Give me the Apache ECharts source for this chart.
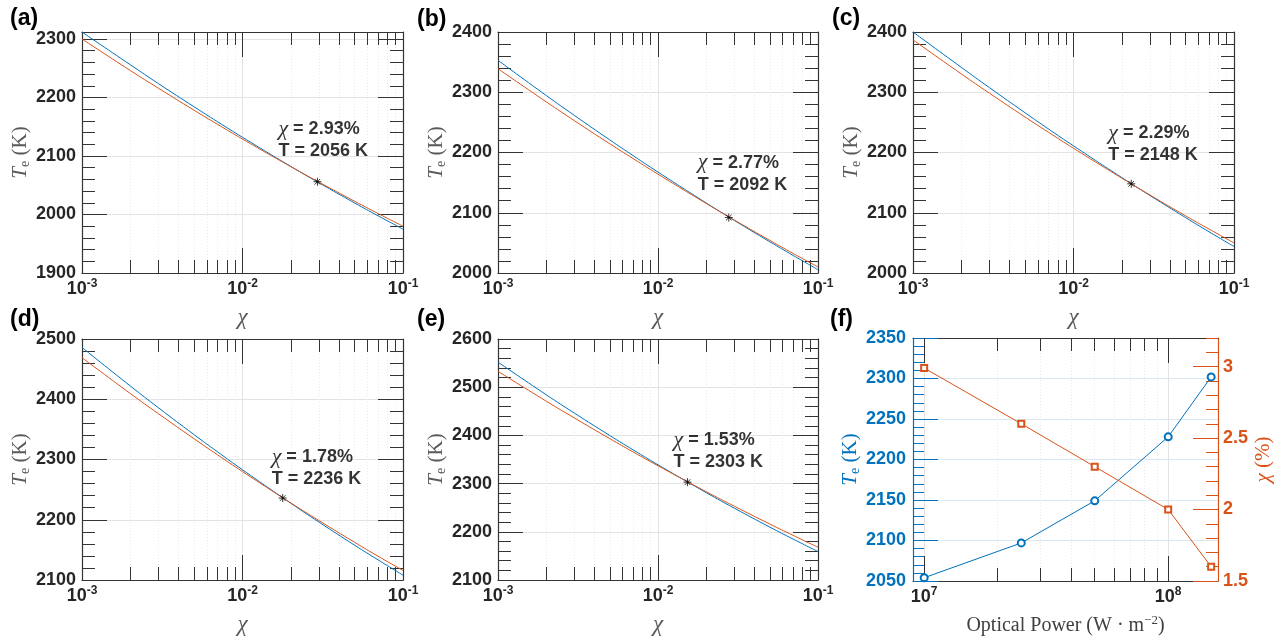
<!DOCTYPE html>
<html>
<head>
<meta charset="utf-8">
<script src="https://cdn.jsdelivr.net/npm/echarts@6/dist/echarts.min.js"></script>
<style>
  html, body { margin: 0; padding: 0; background: #fff; }
  #chart { width: 1282px; height: 639px; }
</style>
</head>
<body>
<div id="chart"></div>
<script>
// ---- data -------------------------------------------------------------
// chi sample positions shared by panels (a)-(e)
const chiGrid = [0.001, 0.002, 0.003, 0.005, 0.007, 0.01, 0.02, 0.03, 0.05, 0.07, 0.1];

// electron temperature (K) from the two models, per panel
const blueA   = [2312, 2256, 2223.6, 2184, 2158.5, 2132, 2082.2, 2054.1, 2019.7, 1997.7, 1975];
const orangeA = [2300, 2246.2, 2215.7, 2178.2, 2154.1, 2129, 2081.8, 2055.2, 2022.6, 2001.6, 1980];
const blueB   = [2353, 2294.7, 2261.6, 2220.8, 2194.7, 2167.5, 2116.3, 2087.3, 2051.8, 2029.1, 2005.5];
const orangeB = [2339, 2284.2, 2252.9, 2214.4, 2189.8, 2164, 2115.5, 2087.9, 2054.1, 2032.4, 2010];
const blueC   = [2400, 2341.3, 2307.5, 2265.8, 2238.9, 2211, 2158.4, 2128.5, 2091.9, 2068.3, 2044];
const orangeC = [2387, 2330.4, 2298.3, 2258.7, 2233.4, 2207, 2157.4, 2129.3, 2094.8, 2072.8, 2050];
const blueD   = [2486, 2422, 2385.7, 2341.1, 2312.6, 2283, 2227.4, 2196, 2157.7, 2133.3, 2108];
const orangeD = [2469, 2409.5, 2375.8, 2334.3, 2307.6, 2280, 2227.9, 2198.5, 2162.5, 2139.4, 2116];
const blueE   = [2552, 2484.4, 2446.3, 2399.7, 2369.9, 2339, 2281.3, 2249, 2209.7, 2184.8, 2159];
const orangeE = [2533, 2471.1, 2436.2, 2393.2, 2365.6, 2337, 2283.3, 2253.1, 2216.1, 2192.5, 2168];

// intersection of the two curves: chi (%) and temperature (K)
const markChi = [2.93, 2.77, 2.29, 1.78, 1.53];
const markT   = [2056, 2092, 2148, 2236, 2303];

// y-axis ranges and tick labels for panels (a)-(e)
const yRanges = [[1900, 2312], [2000, 2400], [2000, 2400], [2100, 2500], [2100, 2600]];
const yTickLabels = [
  [1900, 2000, 2100, 2200, 2300],
  [2000, 2100, 2200, 2300, 2400],
  [2000, 2100, 2200, 2300, 2400],
  [2100, 2200, 2300, 2400, 2500],
  [2100, 2200, 2300, 2400, 2500, 2600]
];

// panel (f): optical power sweep
const power     = [1e7, 2.5e7, 5e7, 1e8, 1.5e8];
const powerT    = [2054, 2097, 2149, 2228, 2302];
const powerChi  = [2.99, 2.60, 2.30, 2.00, 1.60];
const fTTicks   = [2050, 2100, 2150, 2200, 2250, 2300, 2350];
const fChiTicks = [1.5, 2, 2.5, 3];

const panelLetters = ['(a)', '(b)', '(c)', '(d)', '(e)', '(f)'];

// ---- styling / layout --------------------------------------------------
const SANS = 'Liberation Sans, Arial, sans-serif';
const SERIF = 'Liberation Serif, Times New Roman, serif';
const FRAME = '#333333', TXT = '#262626', NAME = '#5a5a5a';
const GRID = '#e3e3e3', MINOR_GRID = '#ececec';
const BLUE = '#0072BD', ORANGE = '#D95319';

const layouts = [
  { left: 82,  top: 32,  width: 321, height: 241 },
  { left: 498, top: 32,  width: 320, height: 241 },
  { left: 913, top: 32,  width: 321, height: 241 },
  { left: 82,  top: 339, width: 321, height: 241 },
  { left: 498, top: 339, width: 320, height: 241 },
  { left: 913, top: 338, width: 305, height: 243 }
];
const letterPos = [[10, 19], [417, 20], [832, 19], [10, 320], [417, 320], [830, 320]];
const markOffset = [[-39, -20], [-31, -22], [-23, -18], [-11, -8], [-14, -9]];

const xAxis = [], yAxis = [], series = [];

function steps(a, b, s) {
  const out = [], n = Math.round((b - a) / s);
  for (let i = 0; i <= n; i++) out.push(+(a + i * s).toFixed(6));
  return out;
}
// log10 positions of 2..9 x 10^k inside (lo, hi)
function logMinors(lo, hi) {
  const out = [];
  for (let k = Math.floor(Math.log10(lo)); k <= Math.ceil(Math.log10(hi)); k++)
    for (let m = 2; m <= 9; m++) {
      const v = m * Math.pow(10, k);
      if (v > lo * 1.001 && v < hi * 0.999) out.push(Math.log10(v));
    }
  return out;
}
function powRich(color) {
  return {
    b: { fontFamily: SANS, fontWeight: 'bold', fontSize: 18, color, lineHeight: 22 },
    s: { fontFamily: SANS, fontWeight: 'bold', fontSize: 12, color, lineHeight: 14, verticalAlign: 'top' }
  };
}
function teName(color) {
  return {
    text: '{t|T}{e|e}{k| (K)}',
    style: { color, rich: {
      t: { fontFamily: SERIF, fontStyle: 'italic', fontSize: 21, color, lineHeight: 24 },
      e: { fontFamily: SERIF, fontSize: 14, color, lineHeight: 14, verticalAlign: 'bottom' },
      k: { fontFamily: SERIF, fontSize: 21, color, lineHeight: 24 }
    } }
  };
}

// log x axis for data + value overlays (in decades) for ticks, labels and grid
function addXAxes(gi, lo, hi, name) {
  const base = xAxis.length;
  const L0 = Math.log10(lo), L1 = Math.log10(hi);
  const decades = [];
  for (let k = Math.ceil(L0 - 1e-9); k <= Math.floor(L1 + 1e-9); k++) decades.push(k);
  const minors = logMinors(lo, hi);
  const tickStyle = { color: FRAME, width: 1 };
  const common = { type: 'value', gridIndex: gi, min: L0, max: L1, silent: true };
  xAxis.push({ type: 'log', gridIndex: gi, min: lo, max: hi, show: false });
  xAxis.push(Object.assign({}, common, {
    position: 'bottom',
    axisLine: { show: true, onZero: false, lineStyle: { color: FRAME, width: 1.2 } },
    axisTick: { show: true, inside: true, length: 25, customValues: decades, lineStyle: tickStyle },
    axisLabel: { show: true, customValues: decades, margin: 5,
      formatter: v => '{b|10}{s|' + Math.round(v) + '}', rich: powRich(TXT) },
    splitLine: { show: true, lineStyle: { color: GRID, width: 1 } },
    name: name.text, nameLocation: 'middle', nameGap: name.gap, nameTextStyle: name.style
  }));
  xAxis.push(Object.assign({}, common, {
    position: 'bottom',
    axisLine: { show: false, onZero: false },
    axisTick: { show: true, inside: true, length: 13, customValues: minors, lineStyle: tickStyle },
    axisLabel: { show: false },
    splitLine: { show: true, lineStyle: { color: MINOR_GRID, width: 1, type: [1, 2] } }
  }));
  xAxis.push(Object.assign({}, common, {
    position: 'top',
    axisLine: { show: true, onZero: false, lineStyle: { color: FRAME, width: 1.2 } },
    axisTick: { show: true, inside: true, length: 25, customValues: decades, lineStyle: tickStyle },
    axisLabel: { show: false }, splitLine: { show: false }
  }));
  xAxis.push(Object.assign({}, common, {
    position: 'top',
    axisLine: { show: false, onZero: false },
    axisTick: { show: true, inside: true, length: 13, customValues: minors, lineStyle: tickStyle },
    axisLabel: { show: false }, splitLine: { show: false }
  }));
  return base;
}

// one side of a y axis: major ticks (+labels, grid) and minor ticks
function addYSide(gi, position, lo, hi, majors, minors, o) {
  const base = yAxis.length;
  const tickStyle = { color: o.color, width: 1 };
  yAxis.push({
    type: 'value', gridIndex: gi, position, min: lo, max: hi, silent: true,
    axisLine: { show: true, onZero: false, lineStyle: { color: o.color, width: 1.2 } },
    axisTick: { show: true, inside: true, length: 25, customValues: majors, lineStyle: tickStyle },
    axisLabel: { show: !!o.labels, customValues: majors, margin: o.margin || 6,
      fontFamily: SANS, fontWeight: 'bold', fontSize: 18, color: o.labelColor || TXT,
      formatter: o.formatter || (v => String(v)) },
    splitLine: { show: !!o.grid, lineStyle: { color: o.grid || GRID, width: 1 } },
    name: o.name ? o.name.text : '', nameLocation: 'middle', nameGap: o.nameGap || 50,
    nameRotate: 90, nameTextStyle: o.name ? o.name.style : {}
  });
  yAxis.push({
    type: 'value', gridIndex: gi, position, min: lo, max: hi, silent: true,
    axisLine: { show: false, onZero: false },
    axisTick: { show: true, inside: true, length: o.minorLen || 13, customValues: minors, lineStyle: tickStyle },
    axisLabel: { show: false }, splitLine: { show: false }
  });
  return base;
}

const ASTERISK = 'path://M5 0L5 10M0 5L10 5M1.5 1.5L8.5 8.5M8.5 1.5L1.5 8.5';
const chiName = {
  text: '{c|χ}',
  gap: 33,
  style: { rich: { c: { fontFamily: SERIF, fontStyle: 'italic', fontSize: 23, color: NAME } } }
};

const curves = [[blueA, orangeA], [blueB, orangeB], [blueC, orangeC], [blueD, orangeD], [blueE, orangeE]];

curves.forEach(([blue, orange], p) => {
  const xb = addXAxes(p, 0.001, 0.1, chiName);
  const [lo, hi] = yRanges[p];
  const majors = yTickLabels[p].filter(v => v >= lo && v <= hi);
  const minors = steps(Math.ceil(lo / 20) * 20, Math.floor(hi / 20) * 20, 20).filter(v => v % 100 !== 0);
  const te = teName(NAME);
  const yb = addYSide(p, 'left', lo, hi, majors, minors,
    { color: FRAME, labels: true, grid: GRID, name: te, nameGap: 46 });
  addYSide(p, 'right', lo, hi, majors, minors, { color: FRAME });

  const lineBase = { type: 'line', xAxisIndex: xb, yAxisIndex: yb, smooth: true, showSymbol: false,
    silent: true, animation: false, z: 3 };
  series.push(Object.assign({}, lineBase, {
    data: chiGrid.map((c, i) => [c, blue[i]]), lineStyle: { color: BLUE, width: 1 }, itemStyle: { color: BLUE } }));
  series.push(Object.assign({}, lineBase, {
    data: chiGrid.map((c, i) => [c, orange[i]]), lineStyle: { color: ORANGE, width: 1 }, itemStyle: { color: ORANGE } }));
  series.push({
    type: 'scatter', xAxisIndex: xb, yAxisIndex: yb, silent: true, animation: false, z: 5,
    data: [[markChi[p] / 100, markT[p]]],
    symbol: ASTERISK, symbolSize: 8,
    itemStyle: { color: 'rgba(0,0,0,0)', borderColor: '#000', borderWidth: 1 },
    label: {
      show: true, position: 'inside', align: 'left', verticalAlign: 'bottom', offset: markOffset[p],
      color: '#000', textBorderWidth: 0,
      formatter: () => '{c|χ}{v| = ' + markChi[p].toFixed(2) + '%}\n{v|T = ' + markT[p] + ' K}',
      rich: {
        c: { fontFamily: SERIF, fontStyle: 'italic', fontSize: 22, color: '#000', lineHeight: 22, textBorderWidth: 0 },
        v: { fontFamily: SANS, fontWeight: 'bold', fontSize: 18, color: '#000', lineHeight: 22, textBorderWidth: 0 }
      }
    }
  });
});

// panel (f): temperature and chi versus optical power
(function () {
  const gi = 5;
  const xb = addXAxes(gi, 9e6, 1.6e8, {
    text: '{n|Optical Power (W · m}{s|−2}{n|)}',
    gap: 33,
    style: { rich: {
      n: { fontFamily: SERIF, fontSize: 20, color: '#404040', lineHeight: 24 },
      s: { fontFamily: SERIF, fontSize: 13, color: '#404040', lineHeight: 14, verticalAlign: 'top' }
    } }
  });
  const yl = addYSide(gi, 'left', 2050, 2350, fTTicks, steps(2060, 2340, 10).filter(v => v % 50 !== 0),
    { color: BLUE, labels: true, labelColor: BLUE, grid: '#dbe8f2', name: teName(BLUE), nameGap: 48, minorLen: 11, margin: 7 });
  const yr = addYSide(gi, 'right', 1.5, 3.2, fChiTicks, steps(1.6, 3.2, 0.1).filter(v => Math.abs(v * 2 - Math.round(v * 2)) > 1e-6),
    { color: ORANGE, labels: true, labelColor: ORANGE, minorLen: 12, margin: 5,
      name: { text: '{c|χ}{k| (%)}', style: { rich: {
        c: { fontFamily: SERIF, fontStyle: 'italic', fontSize: 21, color: ORANGE },
        k: { fontFamily: SERIF, fontSize: 21, color: ORANGE } } } },
      nameGap: 35 });
  series.push({
    type: 'line', xAxisIndex: xb, yAxisIndex: yl, silent: true, animation: false, z: 3,
    data: power.map((p, i) => [p, powerT[i]]),
    symbol: 'emptyCircle', symbolSize: 7, showSymbol: true,
    lineStyle: { color: BLUE, width: 1 }, itemStyle: { color: BLUE, borderWidth: 1 }
  });
  series.push({
    type: 'line', xAxisIndex: xb, yAxisIndex: yr, silent: true, animation: false, z: 3,
    data: power.map((p, i) => [p, powerChi[i]]),
    symbol: 'emptyRect', symbolSize: 6, showSymbol: true,
    lineStyle: { color: ORANGE, width: 1 }, itemStyle: { color: ORANGE, borderWidth: 1 }
  });
})();

const chart = echarts.init(document.getElementById('chart'), null, { renderer: 'canvas' });
chart.setOption({
  backgroundColor: '#ffffff',
  animation: false,
  grid: layouts.map(l => Object.assign({ containLabel: false }, l)),
  xAxis, yAxis, series,
  graphic: panelLetters.map((t, i) => ({
    type: 'text', x: letterPos[i][0], y: letterPos[i][1], silent: true,
    style: { text: t, fontFamily: SANS, fontWeight: 'bold', fontSize: 23, fill: '#000', verticalAlign: 'middle' }
  }))
});
</script>
</body>
</html>
